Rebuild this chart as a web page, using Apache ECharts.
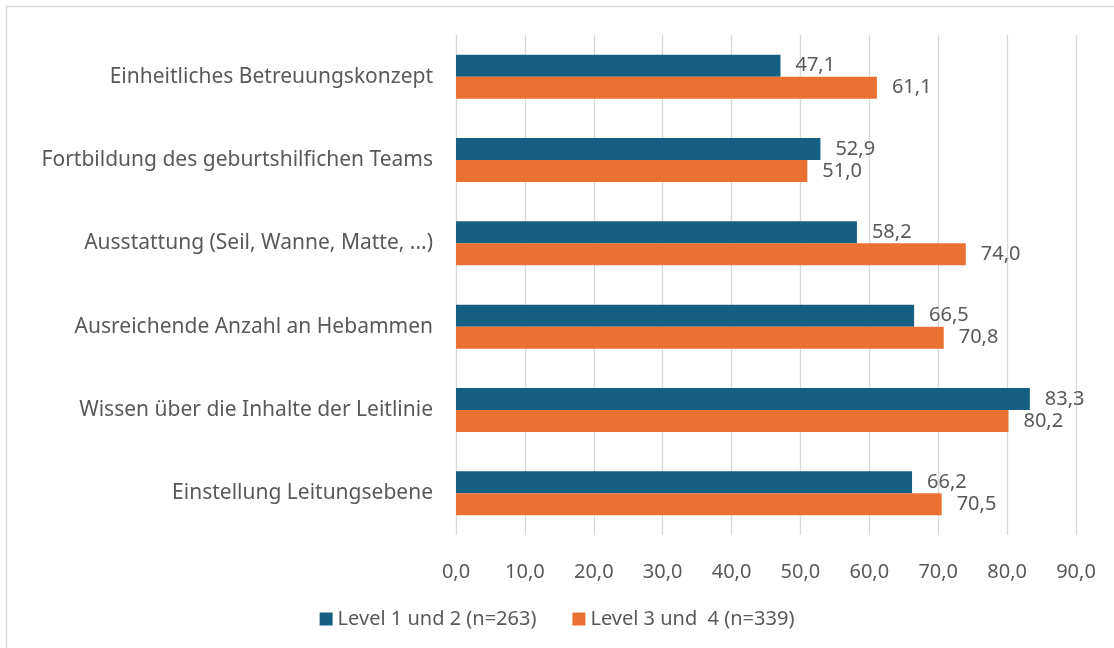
<!DOCTYPE html>
<html>
<head>
<meta charset="utf-8">
<script src="https://cdn.jsdelivr.net/npm/echarts@6/dist/echarts.min.js"></script>
<style>
  html, body { margin: 0; padding: 0; background: #fff; }
  #chart { width: 1114px; height: 648px; }
</style>
</head>
<body>
<div id="chart"></div>
<script>
// Daten
const categories = [
  'Einheitliches Betreuungskonzept',
  'Fortbildung des geburtshilfichen Teams',
  'Ausstattung (Seil, Wanne, Matte, ...)',
  'Ausreichende Anzahl an Hebammen',
  'Wissen über die Inhalte der Leitlinie',
  'Einstellung Leitungsebene'
];
const level12 = [47.1, 52.9, 58.2, 66.5, 83.3, 66.2];
const level34 = [61.1, 51.0, 74.0, 70.8, 80.2, 70.5];
const seriesNames = ['Level 1 und 2 (n=263)', 'Level 3 und  4 (n=339)'];

const textColor = '#595959';
const fontFamily = '"Noto Sans", "Open Sans", sans-serif';
const fmt = (v) => v.toFixed(1).replace('.', ',');

const chart = echarts.init(document.getElementById('chart'));
window.addEventListener('resize', () => chart.resize());

const option = {
  animation: false,
  color: ['#156082', '#E97132'],
  textStyle: { fontFamily: fontFamily, color: textColor },
  graphic: [{
    type: 'rect',
    shape: { x: 6.5, y: 6.5, width: 1120, height: 660 },
    style: { fill: 'none', stroke: '#d9d9d9', lineWidth: 1.5 },
    silent: true
  }],
  grid: { left: 456, right: 38, top: 35, bottom: 113 },
  legend: {
    bottom: 14,
    left: 'center',
    itemWidth: 13,
    itemHeight: 13,
    itemGap: 36,
    icon: 'rect',
    textStyle: { color: textColor, fontSize: 20, fontFamily: fontFamily },
    data: seriesNames
  },
  xAxis: {
    type: 'value',
    min: 0,
    max: 90,
    interval: 10,
    axisLine: { show: false },
    axisTick: { show: false },
    splitLine: { show: true, lineStyle: { color: '#d9d9d9', width: 1.3 } },
    axisLabel: {
      color: textColor,
      fontSize: 20,
      margin: 27,
      formatter: (v) => fmt(v)
    }
  },
  yAxis: {
    type: 'category',
    inverse: true,
    data: categories,
    axisLine: { show: false },
    axisTick: { show: false },
    axisLabel: { color: textColor, fontSize: 21, margin: 23 }
  },
  series: [
    {
      name: seriesNames[0],
      type: 'bar',
      data: level12,
      barWidth: 22,
      barGap: '0%',
      label: {
        show: true,
        position: 'right',
        distance: 15,
        color: textColor,
        fontSize: 20,
        formatter: (p) => fmt(p.value)
      }
    },
    {
      name: seriesNames[1],
      type: 'bar',
      data: level34,
      barWidth: 22,
      label: {
        show: true,
        position: 'right',
        distance: 15,
        color: textColor,
        fontSize: 20,
        formatter: (p) => fmt(p.value)
      }
    }
  ]
};
chart.setOption(option, true);
</script>
</body>
</html>
